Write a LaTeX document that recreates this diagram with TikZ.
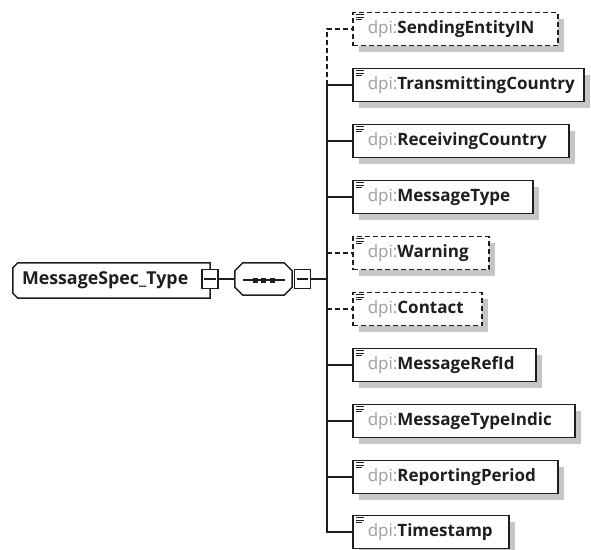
\documentclass[tikz,border=0pt]{standalone}
\usepackage{fontspec}
\setmainfont{Open Sans}
\usetikzlibrary{shadows,calc}
\definecolor{pfx}{HTML}{A0A0A0}
\definecolor{ink}{HTML}{1E1E1E}
\definecolor{shd}{HTML}{C6C6C6}
\newcommand\ename[2]{\makebox[#1pt][l]{\hspace*{15pt}\textcolor{pfx}{dpi:}\textbf{\textcolor{ink}{#2}}}}
\newcommand\docicon[1]{%
  \draw[line width=0.9pt,ink] ($(#1.north west)+(4,3)$) -- ++(8,0);
  \draw[line width=0.9pt,ink] ($(#1.north west)+(4,5.5)$) -- ++(8,0);
  \draw[line width=0.9pt,ink] ($(#1.north west)+(4,8)$) -- ++(6,0);}
\begin{document}
\begin{tikzpicture}[x=1pt,y=-1pt,
  elem/.style={draw=ink, line width=1.5pt, fill=white, anchor=west, minimum height=33pt,
    inner xsep=0pt, inner ysep=0pt,
    drop shadow={shadow xshift=6pt, shadow yshift=-6pt, fill=shd, opacity=1},
    font=\fontsize{17}{18}\selectfont},
  opt/.style={elem, dash pattern=on 5pt off 3pt},
  link/.style={draw=ink, line width=1.5pt},
  optlink/.style={link, dash pattern=on 5pt off 3pt},
  minus/.style={draw=ink, line width=1.2pt, fill=white, minimum width=16pt, minimum height=19pt, inner sep=0pt},
  hidden/.style={draw=none, inner sep=0pt}]
\useasboundingbox (0,0) rectangle (591,549);
\fill[white] (0,0) rectangle (591,549);

% main complex type
\node[hidden, minimum width=197pt, minimum height=35pt] (main) at (111.5,280.5) {};
\fill[shd, shift={(6,6)}] ($(main.north west)+(5,0)$) -- (main.north east) -- (main.south east)
  -- ($(main.south west)+(5,0)$) -- ($(main.south west)+(0,-5)$) -- ($(main.north west)+(0,5)$) -- cycle;
\fill[white] ($(main.north west)+(5,0)$) -- (main.north east) -- (main.south east)
  -- ($(main.south west)+(5,0)$) -- ($(main.south west)+(0,-5)$) -- ($(main.north west)+(0,5)$) -- cycle;
\node[hidden, minimum width=197pt, minimum height=35pt, font=\fontsize{17.8}{19}\selectfont] (mainlabel) at (main.center)
  {\makebox[197pt][l]{\hspace*{9pt}\textbf{\textcolor{ink}{MessageSpec\_Type}}}};
\draw[link] ($(main.north west)+(5,0)$) -- (main.north east) -- (main.south east)
  -- ($(main.south west)+(5,0)$) -- ($(main.south west)+(0,-5)$) -- ($(main.north west)+(0,5)$) -- cycle;
\node[minus] (m1) at (210,279) {};
\draw[link, line width=1.2pt] ($(m1.west)+(3,0)$) -- ($(m1.east)+(-3,0)$);

% sequence compositor
\node[hidden, minimum width=57pt, minimum height=32pt] (seq) at (263.5,279) {};
\fill[shd, shift={(6,6)}] ($(seq.north west)+(8,0)$) -- ($(seq.north east)+(-8,0)$) -- ($(seq.north east)+(0,8)$)
  -- ($(seq.south east)+(0,-8)$) -- ($(seq.south east)+(-8,0)$) -- ($(seq.south west)+(8,0)$)
  -- ($(seq.south west)+(0,-8)$) -- ($(seq.north west)+(0,8)$) -- cycle;
\draw[link, fill=white] ($(seq.north west)+(8,0)$) -- ($(seq.north east)+(-8,0)$) -- ($(seq.north east)+(0,8)$)
  -- ($(seq.south east)+(0,-8)$) -- ($(seq.south east)+(-8,0)$) -- ($(seq.south west)+(8,0)$)
  -- ($(seq.south west)+(0,-8)$) -- ($(seq.north west)+(0,8)$) -- cycle;
\draw[link, line width=1.2pt] ($(seq.west)+(8,1)$) -- ($(seq.east)+(-7,1)$);
\foreach \dx in {-8.5,0,8.5}
  \fill[ink] ($(seq.center)+(\dx,1)+(-2.5,-2.5)$) rectangle ++(5,5);
\node[minus] (m2) at (302.5,279) {};
\draw[link, line width=1.2pt] ($(m2.west)+(3,0)$) -- ($(m2.east)+(-3,0)$);

\draw[link] (m1.east) -- (seq.west);

% children
\node[opt]  (e1)  at (352,29)  {\ename{205}{SendingEntityIN}};
\node[elem] (e2)  at (352,85)  {\ename{231}{TransmittingCountry}};
\node[elem] (e3)  at (352,141) {\ename{216}{ReceivingCountry}};
\node[elem] (e4)  at (352,197) {\ename{180}{MessageType}};
\node[opt]  (e5)  at (352,253) {\ename{136}{Warning}};
\node[opt]  (e6)  at (352,309) {\ename{129}{Contact}};
\node[elem] (e7)  at (352,365) {\ename{183}{MessageRefId}};
\node[elem] (e8)  at (352,421) {\ename{222}{MessageTypeIndic}};
\node[elem] (e9)  at (352,477) {\ename{205}{ReportingPeriod}};
\node[elem] (e10) at (352,532) {\ename{156}{Timestamp}};
\foreach \n in {e1,e2,e3,e4,e5,e6,e7,e8,e9,e10} {\docicon{\n}}

\coordinate (tk) at (327,279);
\draw[link] (m2.east) -- (tk);
\draw[optlink] (tk |- e2.west) -- (tk |- e1.west) -- (e1.west);
\draw[link] (tk |- e2.west) -- (tk |- e10.west) -- (e10.west);
\foreach \n in {e2,e3,e4,e7,e8,e9} {\draw[link] (tk |- \n.west) -- (\n.west);}
\foreach \n in {e5,e6} {\draw[optlink] (tk |- \n.west) -- (\n.west);}
\end{tikzpicture}
\end{document}
